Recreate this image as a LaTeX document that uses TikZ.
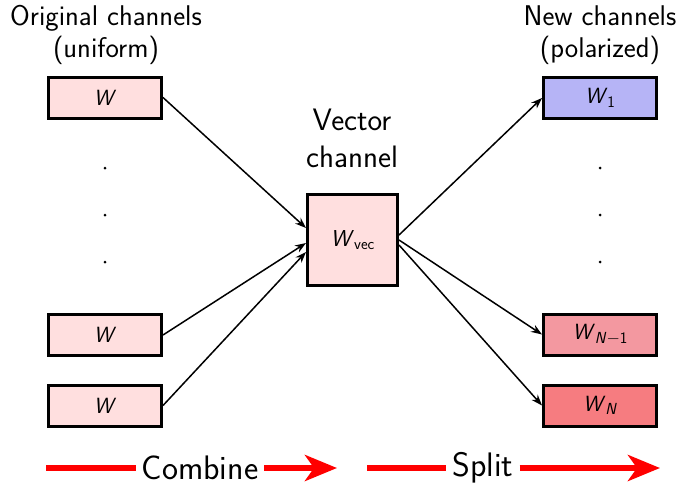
\documentclass[tikz,border=0pt]{standalone}
\usetikzlibrary{arrows.meta}
\definecolor{pinkfill}{RGB}{255,223,223}
\definecolor{bluefill}{RGB}{182,180,246}
\definecolor{midred}{RGB}{243,152,160}
\definecolor{strongred}{RGB}{246,124,128}
\newcommand\chsub[1]{\raisebox{-0.35ex}{\fontsize{16}{19}\selectfont #1}}
\begin{document}
\begin{tikzpicture}[x=1pt,y=-1pt,
  chan/.style={draw,line width=3pt,minimum width=113pt,minimum height=41pt,inner sep=0pt,font=\fontsize{22}{26}\selectfont\sffamily},
  lbl/.style={align=center,font=\fontsize{28.5}{32}\selectfont\sffamily},
  veclbl/.style={align=center,font=\fontsize{31}{37}\selectfont\sffamily},
  conn/.style={line width=1.5pt,-{Stealth[length=11pt,width=8pt]}},
  redline/.style={red,line width=6pt},
  redarrow/.style={red,line width=6pt,-{Stealth[length=32pt,width=26pt,inset=9pt]}},
  dotn/.style={circle,fill,inner sep=0pt,minimum size=3pt},
  bottomlbl/.style={font=\fontsize{34}{38}\selectfont\sffamily,inner sep=6pt}]
\useasboundingbox (0,0) rectangle (682,491);
% labels
\node[lbl] (lorig) at (106,35) {Original channels\\(uniform)};
\node[lbl] (lnew) at (600,35) {New channels\\(polarized)};
\node[veclbl] (lvec) at (352,138) {Vector\\channel};
% left channels
\node[chan,fill=pinkfill] (a1) at (105,97.5) {\textit{W}};
\node[chan,fill=pinkfill] (a2) at (105,335) {\textit{W}};
\node[chan,fill=pinkfill] (a3) at (105,405.5) {\textit{W}};
% vector channel
\node[chan,fill=pinkfill,minimum width=90pt,minimum height=91pt,font=\fontsize{23}{27}\selectfont\sffamily] (vec) at (352.5,240) {\textit{W}\chsub{vec}};
% right channels
\node[chan,fill=bluefill] (b1) at (600,98) {\textit{W}\chsub{1}};
\node[chan,fill=midred] (b2) at (600,334.5) {\textit{W}\chsub{\textit{N}$-$1}};
\node[chan,fill=strongred] (b3) at (600,405.5) {\textit{W}\chsub{\textit{N}}};
% dots
\node[dotn] (ld1) at (105,168) {};
\node[dotn] (ld2) at (105,215) {};
\node[dotn] (ld3) at (105,262) {};
\node[dotn] (rd1) at (600,168) {};
\node[dotn] (rd2) at (600,215) {};
\node[dotn] (rd3) at (600,262) {};
% connectors
\draw[conn] (a1.east) -- ([yshift=12pt]vec.west);
\draw[conn] (a2.east) -- ([yshift=-3pt]vec.west);
\draw[conn] (a3.east) -- ([yshift=-12pt]vec.west);
\draw[conn] ([yshift=5pt]vec.east) -- (b1.west);
\draw[conn] (vec.east) -- (b2.west);
\draw[conn] ([yshift=-5pt]vec.east) -- (b3.west);
% bottom arrows
\coordinate (c0) at (46,468);
\node[bottomlbl] (comb) at (200,468) {Combine};
\coordinate (c1) at (337,468);
\draw[redline] (c0) -- (comb.west);
\draw[redarrow] (comb.east) -- (c1);
\coordinate (s0) at (367,468);
\node[bottomlbl] (split) at (483,468) {Split};
\coordinate (s1) at (660,468);
\draw[redline] (s0) -- (split.west);
\draw[redarrow] (split.east) -- (s1);
\end{tikzpicture}
\end{document}
